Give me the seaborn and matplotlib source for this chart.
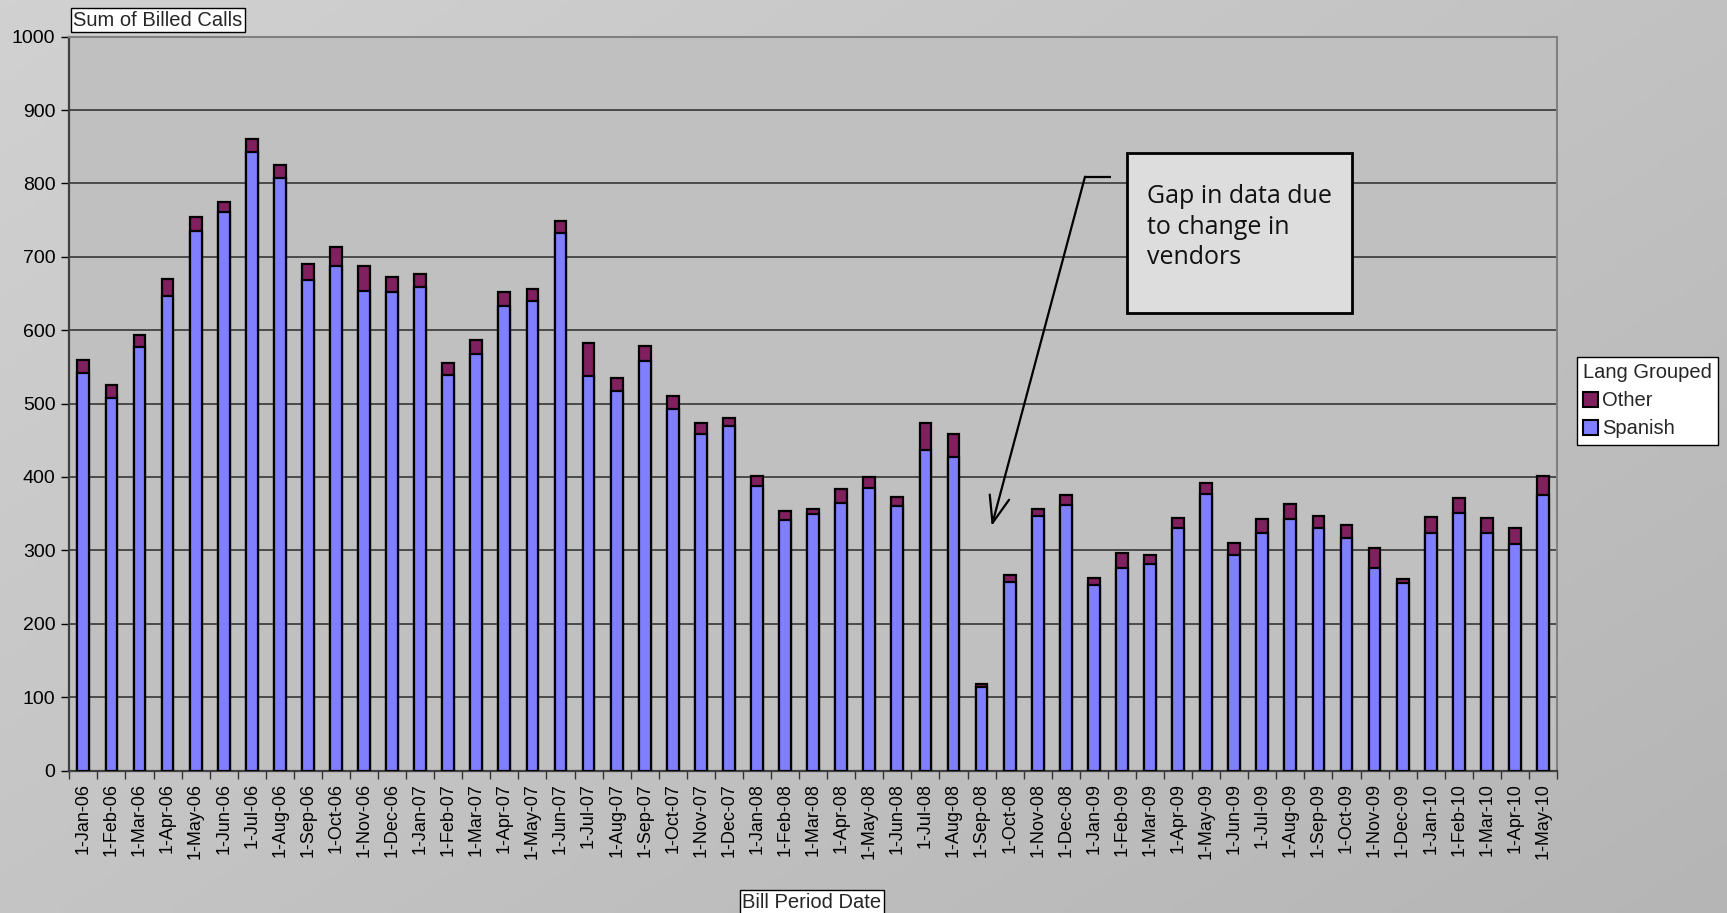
import numpy as np
import pandas as pd
import matplotlib
matplotlib.use("Agg")
import matplotlib.pyplot as plt
import seaborn as sns
from matplotlib.patches import Rectangle, Patch
from matplotlib.lines import Line2D

months = ["1-Jan-06", "1-Feb-06", "1-Mar-06", "1-Apr-06", "1-May-06", "1-Jun-06",
          "1-Jul-06", "1-Aug-06", "1-Sep-06", "1-Oct-06", "1-Nov-06", "1-Dec-06",
          "1-Jan-07", "1-Feb-07", "1-Mar-07", "1-Apr-07", "1-May-07", "1-Jun-07",
          "1-Jul-07", "1-Aug-07", "1-Sep-07", "1-Oct-07", "1-Nov-07", "1-Dec-07",
          "1-Jan-08", "1-Feb-08", "1-Mar-08", "1-Apr-08", "1-May-08", "1-Jun-08",
          "1-Jul-08", "1-Aug-08", "1-Sep-08", "1-Oct-08", "1-Nov-08", "1-Dec-08",
          "1-Jan-09", "1-Feb-09", "1-Mar-09", "1-Apr-09", "1-May-09", "1-Jun-09",
          "1-Jul-09", "1-Aug-09", "1-Sep-09", "1-Oct-09", "1-Nov-09", "1-Dec-09",
          "1-Jan-10", "1-Feb-10", "1-Mar-10", "1-Apr-10", "1-May-10"]

spanish = [542, 507, 577, 647, 735, 761, 843, 807, 668, 687, 653, 652,
           659, 539, 567, 633, 640, 733, 538, 517, 558, 492, 459, 470,
           388, 342, 350, 364, 385, 360, 437, 427, 114, 257, 347, 362,
           253, 276, 282, 331, 377, 294, 324, 343, 330, 317, 276, 256,
           324, 351, 324, 309, 375]

other = [18, 18, 16, 23, 19, 14, 18, 18, 22, 27, 35, 21,
         17, 16, 19, 19, 16, 16, 45, 18, 21, 19, 15, 10,
         14, 11, 7, 19, 15, 13, 36, 32, 4, 10, 10, 13,
         10, 21, 11, 13, 15, 16, 19, 20, 17, 18, 27, 5,
         22, 20, 20, 22, 27]

y_ticks = [0, 100, 200, 300, 400, 500, 600, 700, 800, 900, 1000]

SPANISH_C = "#8080FF"
OTHER_C = "#80205F"

df = pd.DataFrame({"month": months, "Spanish": spanish, "Other": other})
df["Total"] = df["Spanish"] + df["Other"]

sns.set_theme(style="white")
plt.rcParams["font.family"] = ["Liberation Sans", "DejaVu Sans"]

W, H = 1727, 913
fig = plt.figure(figsize=(W / 100, H / 100), dpi=100)

# gradient figure background
bg = fig.add_axes([0, 0, 1, 1], zorder=-10)
yy, xx = np.mgrid[0:1:200j, 0:1:200j]
grad = 0.82 - 0.11 * (0.55 * xx + 0.45 * yy)
bg.imshow(np.dstack([grad, grad, grad]), extent=[0, 1, 0, 1], aspect="auto", origin="upper")
bg.axis("off")

px_l, px_r, px_t, px_b = 69.3, 1557, 36.7, 770.5
ax = fig.add_axes([px_l / W, 1 - px_b / H, (px_r - px_l) / W, (px_b - px_t) / H])
ax.set_facecolor("#C0C0C0")

sns.barplot(data=df, x="month", y="Total", color=OTHER_C, saturation=1, width=0.42,
            edgecolor="black", linewidth=1.6, ax=ax, zorder=3)
sns.barplot(data=df, x="month", y="Spanish", color=SPANISH_C, saturation=1, width=0.42,
            edgecolor="black", linewidth=1.6, ax=ax, zorder=3)

ax.set_xlim(-0.5, len(months) - 0.5)
ax.set_ylim(0, 1000)
ax.set_yticks(y_ticks)
ax.set_yticklabels([str(v) for v in y_ticks], fontsize=14)
ax.yaxis.grid(True, color="#2a2a2a", linewidth=1.1, zorder=0)
ax.set_axisbelow(True)
ax.set_xlabel("")
ax.set_ylabel("")
ax.tick_params(axis="x", which="major", length=0, labelsize=13, labelrotation=90, pad=9, colors="black")
ax.tick_params(axis="y", which="major", length=6, width=1, direction="out", colors="black", left=True, pad=4)
ax.set_xticks(np.arange(-0.5, len(months), 1.0), minor=True)
ax.tick_params(axis="x", which="minor", length=6, width=1, direction="out", bottom=True, color="#333333")

for s in ["top", "right"]:
    ax.spines[s].set_color("#808080")
    ax.spines[s].set_linewidth(1.5)
for s in ["left", "bottom"]:
    ax.spines[s].set_color("#404040")
    ax.spines[s].set_linewidth(1.6)

# axis titles in boxes
fig.text(73 / W, 1 - 20 / H, "Sum of Billed Calls", fontsize=14.5, va="center", ha="left",
         bbox=dict(boxstyle="square,pad=0.12", facecolor="white", edgecolor="black", linewidth=1))
fig.text(812 / W, 1 - 902 / H, "Bill Period Date", fontsize=14.5, va="center", ha="center",
         bbox=dict(boxstyle="square,pad=0.12", facecolor="white", edgecolor="black", linewidth=1))

# annotation
def to_data(px, py):
    xd = -0.5 + (px - px_l) / ((px_r - px_l) / len(months))
    yd = (px_b - py) / ((px_b - px_t) / 1000)
    return xd, yd

bx0, by0 = to_data(1126.7, 312.7)
bx1, by1 = to_data(1351.7, 153.3)
ax.add_patch(Rectangle((bx0, by0), bx1 - bx0, by1 - by0, facecolor="#DDDDDD",
                       edgecolor="black", linewidth=2, zorder=6, clip_on=False))
tx, ty = to_data(1146.7, 184)
ax.text(tx, ty, "Gap in data due\nto change in\nvendors", fontsize=18, va="top", ha="left",
        family=["Open Sans", "DejaVu Sans"], linespacing=1.3, zorder=7, color="#111111")
ex, ey = to_data(1085, 176.7)
lx, ly = to_data(1111, 176.7)
tipx, tipy = to_data(991.7, 526)
ax.plot([ex, lx], [ey, ly], color="black", linewidth=1.6, zorder=6, solid_capstyle="butt")
ax.annotate("", xy=(tipx, tipy), xytext=(ex, ey),
            arrowprops=dict(arrowstyle="->,head_length=1.6,head_width=0.6", color="black",
                            linewidth=1.6, shrinkA=0, shrinkB=0), zorder=6)

# legend
handles = [Patch(facecolor=OTHER_C, edgecolor="black", linewidth=1.5, label="Other"),
           Patch(facecolor=SPANISH_C, edgecolor="black", linewidth=1.5, label="Spanish")]
leg = fig.legend(handles=handles, title="Lang Grouped", loc="upper left",
                 bbox_to_anchor=(1576.7 / W, 1 - 357.3 / H), borderaxespad=0,
                 fontsize=14.5, title_fontsize=14.5, frameon=True, fancybox=False,
                 framealpha=1, edgecolor="black", facecolor="white",
                 handlelength=0.75, handleheight=0.75, handletextpad=0.2,
                 labelspacing=0.45, borderpad=0.3)
leg.get_frame().set_linewidth(1)
leg._legend_box.align = "left"

fig.canvas.draw()
r = fig.canvas.get_renderer()
fb = leg.get_frame().get_window_extent(r)
tb = leg.get_title().get_window_extent(r)
yline = tb.y0 - 3
fig.add_artist(Line2D([fb.x0 / W, fb.x1 / W], [yline / H, yline / H],
                      color="black", linewidth=1, transform=fig.transFigure))

fig.savefig("out.png", dpi=100)
